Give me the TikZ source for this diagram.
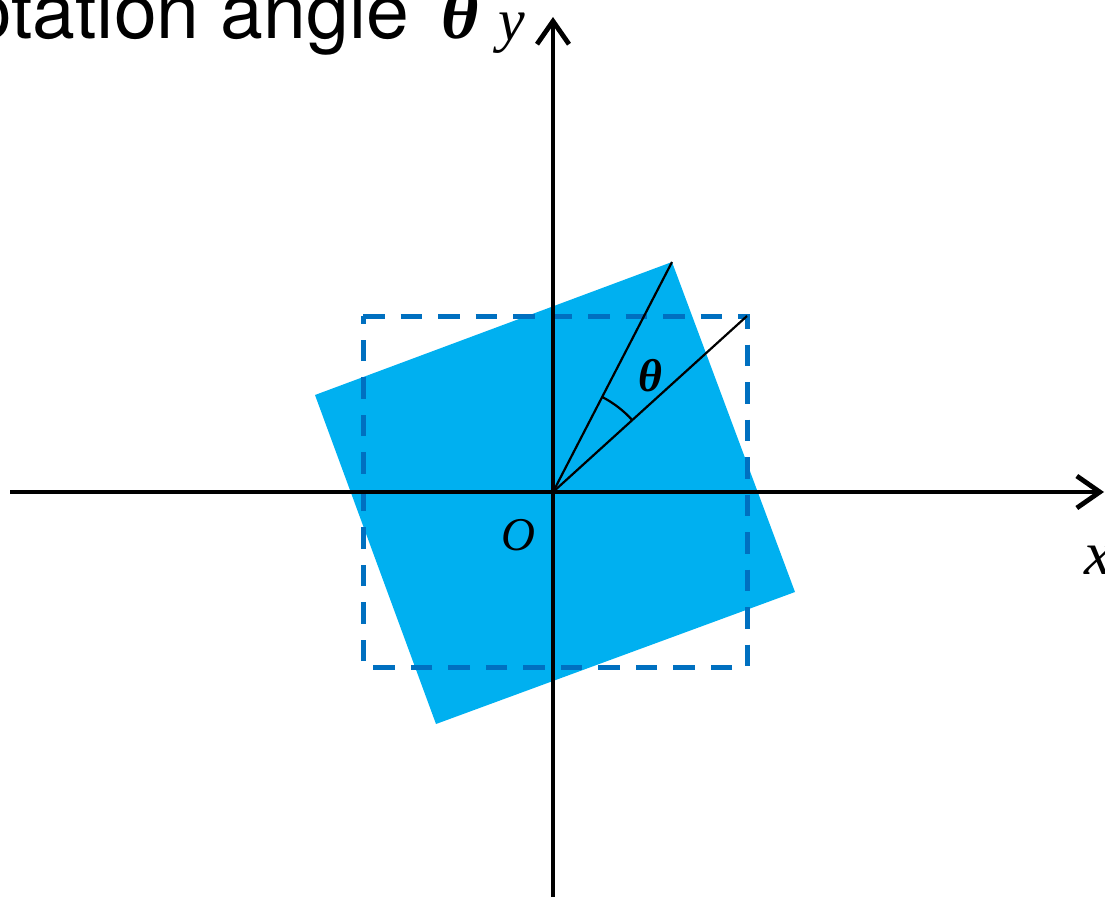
\documentclass[tikz,border=0pt]{standalone}
\usepackage{fontspec}
\setmainfont{Liberation Serif}
\newfontfamily\titlefont{TeX Gyre Heros}
\usetikzlibrary{arrows.meta}
\definecolor{fillblue}{HTML}{00B0F0}
\definecolor{dashblue}{HTML}{0070C0}
\begin{document}
\begin{tikzpicture}[x=1pt,y=-1pt,
  axisline/.style={line width=4.8pt,-{Straight Barb[length=23pt,width=32pt]}},
  thinline/.style={line width=2.2pt,black},
  dashrect/.style={draw=dashblue,line width=5pt,dash pattern=on 21.5pt off 16pt},
  rotrect/.style={fill=fillblue,draw=none},
  lbl/.style={inner sep=0pt,font=\itshape}]
\useasboundingbox (0,0) rectangle (1105,899);
% points
\coordinate (O) at (553,492);
\coordinate (r1) at (672,262);
\coordinate (r2) at (795,592);
\coordinate (r3) at (436,724);
\coordinate (r4) at (315,395);
\coordinate (d1) at (363,316);
\coordinate (d2) at (747,316);
\coordinate (d3) at (747,667);
\coordinate (d4) at (363,667);
\coordinate (xl) at (10,492);
\coordinate (xr) at (1104,492);
\coordinate (yb) at (553,897);
\coordinate (yt) at (553,17);
% rotated rectangle
\fill[rotrect] (r1) -- (r2) -- (r3) -- (r4) -- cycle;
% dashed rectangle
\draw[dashrect] (d1) -- (d2) -- (d3) -- (d4) -- cycle;
% angle lines
\draw[thinline] (O) -- (r1);
\draw[thinline] (O) -- (d2);
\draw[thinline] (O) ++(-42.2:107) arc[start angle=-42.2,end angle=-62.65,radius=107];
% axes
\draw[axisline] (xl) -- (xr);
\draw[axisline] (yb) -- (yt);
% labels
\node[inner sep=0pt,font=\fontsize{46}{50}\selectfont\bfseries\itshape] (th) at (650,376) {θ};
\node[lbl,font=\fontsize{47}{50}\selectfont\itshape] (Olbl) at (518,535) {O};
\node[lbl,font=\fontsize{60}{64}\selectfont\itshape] (ylbl) at (512,33) {y};
\node[lbl,font=\fontsize{62}{66}\selectfont\itshape] (xlbl) at (1098,560) {x};
\node[inner sep=0pt,anchor=base west,font=\fontsize{77}{81}\selectfont\titlefont] (title) at (-31,39) {otation angle};
\node[inner sep=0pt,anchor=base west,font=\fontsize{72}{76}\selectfont\bfseries\itshape] (tth) at (441,38) {θ};
\end{tikzpicture}
\end{document}
